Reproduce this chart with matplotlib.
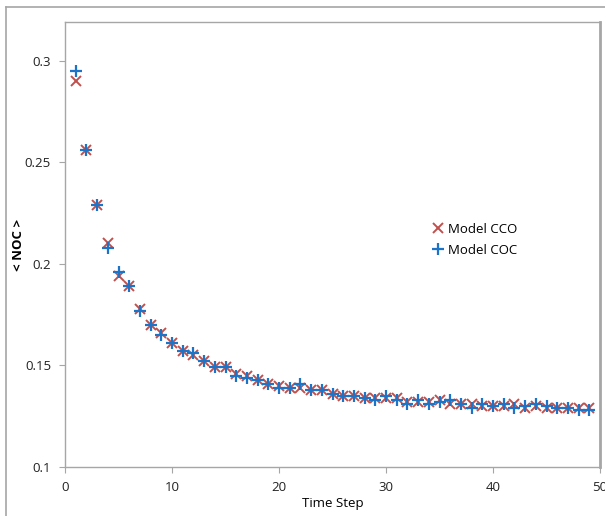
import matplotlib.pyplot as plt
from matplotlib.lines import Line2D

plt.rcParams['font.family'] = ['Open Sans', 'DejaVu Sans']

steps = list(range(1, 50))
cco = [0.290, 0.256, 0.229, 0.210, 0.194, 0.189, 0.178, 0.170, 0.166, 0.161,
       0.157, 0.155, 0.152, 0.149, 0.149, 0.146, 0.145, 0.143, 0.141, 0.140,
       0.139, 0.139, 0.138, 0.138, 0.136, 0.135, 0.135, 0.134, 0.134, 0.134,
       0.134, 0.132, 0.132, 0.132, 0.133, 0.131, 0.131, 0.131, 0.130, 0.130,
       0.130, 0.131, 0.129, 0.130, 0.129, 0.129, 0.129, 0.129, 0.129]
coc = [0.295, 0.256, 0.229, 0.208, 0.196, 0.189, 0.177, 0.170, 0.165, 0.161,
       0.157, 0.156, 0.152, 0.149, 0.149, 0.145, 0.144, 0.143, 0.141, 0.139,
       0.139, 0.141, 0.138, 0.138, 0.136, 0.135, 0.135, 0.134, 0.133, 0.135,
       0.133, 0.131, 0.133, 0.131, 0.132, 0.133, 0.131, 0.129, 0.131, 0.130,
       0.131, 0.129, 0.130, 0.131, 0.130, 0.129, 0.129, 0.128, 0.128]
labels = ["Model CCO", "Model COC"]

RED = "#c0504d"
BLUE = "#1c74c9"
GREY = "#a6a6a6"

fig = plt.figure(figsize=(6.05, 5.16), dpi=100)
ax = fig.add_axes([65 / 605, 1 - 467 / 516, 535 / 605, 445 / 516])

ax.plot(steps, cco, ls="none", marker="x", ms=7, mew=1.4, color=RED, label=labels[0])
ax.plot(steps, coc, ls="none", marker="+", ms=9, mew=1.6, color=BLUE, label=labels[1])

ax.set_xlim(0, 50)
ax.set_ylim(0.1, 0.319)
ax.set_xticks([0, 10, 20, 30, 40, 50])
ax.set_yticks([0.1, 0.15, 0.2, 0.25, 0.3])
ax.set_yticklabels(["0.1", "0.15", "0.2", "0.25", "0.3"])
ax.tick_params(direction="out", length=4, color=GREY, labelsize=9.5,
               labelcolor="#222222", pad=6)
for s in ax.spines.values():
    s.set_color(GREY)
    s.set_linewidth(1.0)
ax.spines["right"].set_linewidth(2.0)

ax.set_xlabel("Time Step", fontsize=9.5, labelpad=2)
ax.set_ylabel("< NOC >", fontsize=9.5, fontweight="bold", labelpad=2)
ax.yaxis.set_label_coords(-0.075, 0.5)

ax.legend(loc="upper left", bbox_to_anchor=(0.665, 0.575), frameon=False,
          fontsize=9.5, handlelength=0.8, handletextpad=0.4, labelspacing=0.6)

# outer chart frame (cropped on the right and bottom)
fig.add_artist(Line2D([6 / 605, 6 / 605], [0, 1 - 7 / 516], color=GREY, lw=1.2,
                      transform=fig.transFigure))
fig.add_artist(Line2D([6 / 605, 1], [1 - 7 / 516, 1 - 7 / 516], color=GREY, lw=1.2,
                      transform=fig.transFigure))

fig.savefig("out.png", dpi=100)
